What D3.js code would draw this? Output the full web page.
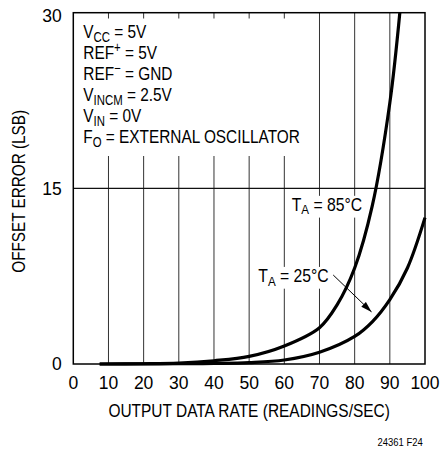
<!DOCTYPE html>
<html>
<head>
<meta charset="utf-8">
<script src="https://cdn.jsdelivr.net/npm/d3@7"></script>
<style>
  html, body { margin: 0; padding: 0; background: #fff; }
  svg { display: block; font-family: "Liberation Sans", Arial, sans-serif; }
</style>
</head>
<body>
<svg id="chart" width="440" height="451"></svg>
<script>
// data
const rate85 = [7.5, 20, 30, 40, 50, 60, 70, 75, 80, 85, 90, 93];
const offset85 = [0, 0.02, 0.08, 0.28, 0.65, 1.54, 3.1, 5.05, 8.2, 13.5, 22.3, 30.5];

const rate25 = [7.5, 30, 40, 50, 60, 70, 80, 85, 90, 95, 100];
const offset25 = [0, 0.02, 0.05, 0.12, 0.34, 1.0, 2.35, 3.6, 5.5, 8.2, 12.5];

const xTicks = [0, 10, 20, 30, 40, 50, 60, 70, 80, 90, 100];
const yTicks = [0, 15, 30];

// test conditions, each line split in [text, kind] parts
const conditions = [
  [["V", ""], ["CC", "sub"], [" = 5V", ""]],
  [["REF", ""], ["+", "sup"], [" = 5V", ""]],
  [["REF", ""], ["\u2212", "sup"], [" = GND", ""]],
  [["V", ""], ["INCM", "sub"], [" = 2.5V", ""]],
  [["V", ""], ["IN", "sub"], [" = 0V", ""]],
  [["F", ""], ["O", "sub"], [" = EXTERNAL OSCILLATOR", ""]],
];

const svg = d3.select("#chart");
const defs = svg.append("defs");

const x = d3.scaleLinear().domain([0, 100]).range([73.3, 425]);
const y = d3.scaleLinear().domain([0, 30]).range([364, 12.7]);

// text in a narrow face: Liberation Sans squeezed sideways around its anchor
function addText(parent, o) {
  const g = parent.append("g")
    .attr("transform", `translate(${o.x},0) scale(${o.k || 1},1) translate(${-o.x},0)`);
  const t = g.append("text")
    .attr("x", o.x).attr("y", o.y)
    .attr("font-size", o.size)
    .attr("text-anchor", o.anchor || "start");
  let shift = 0;
  o.parts.forEach(([s, kind]) => {
    const ts = t.append("tspan").text(s);
    let want = 0;
    if (kind === "sub") want = o.size * 0.22;
    if (kind === "sup") want = -o.size * 0.36;
    if (kind) ts.attr("font-size", o.size * 0.74);
    if (want !== shift) ts.attr("dy", want - shift);
    shift = want;
  });
  return g;
}

function maskBehind(g, pad) {
  const b = g.node().getBBox();
  g.insert("rect", ":first-child")
    .attr("x", b.x - pad[0]).attr("y", b.y - pad[2])
    .attr("width", b.width + pad[0] + pad[1]).attr("height", b.height + pad[2] + pad[3])
    .attr("fill", "#fff");
}

const plot = svg.append("g");

// ── grid ─────────────────────────────────────────
plot.append("g")
  .selectAll("line")
  .data(xTicks.slice(1, -1))
  .join("line")
  .attr("x1", (d) => x(d)).attr("x2", (d) => x(d))
  .attr("y1", y(30)).attr("y2", y(0))
  .attr("stroke", "#333").attr("stroke-width", 1);

plot.append("line")
  .attr("x1", x(0)).attr("x2", x(100))
  .attr("y1", y(15)).attr("y2", y(15))
  .attr("stroke", "#111").attr("stroke-width", 1.2);

// ── conditions box ───────────────────────────────
const cond = plot.append("g");
cond.append("rect")
  .attr("x", x(0) + 1).attr("y", 18.5)
  .attr("width", x(60) + 8 - x(0) - 1).attr("height", 156 - 18.5)
  .attr("fill", "#fff");
conditions.forEach((parts, i) => {
  addText(cond, { x: 83.3, y: 37.7 + i * 21.1, size: 19, k: 0.81, parts });
});

// ── curve labels ─────────────────────────────────
const curveLabels = [
  { rate: 62.1, off: 13.1, parts: [["T", ""], ["A", "sub"], [" = 85\u00B0C", ""]] },
  { rate: 52.6, off: 7.03, parts: [["T", ""], ["A", "sub"], [" = 25\u00B0C", ""]] },
];
curveLabels.forEach((l) => {
  const g = addText(plot, { x: x(l.rate), y: y(l.off), size: 17.5, k: 0.9, parts: l.parts });
  maskBehind(g, [2, 2, -1, 0]);
});

// arrow from the 25°C label to its curve
defs.append("marker")
  .attr("id", "arrow")
  .attr("viewBox", "0 0 10 6")
  .attr("refX", 10).attr("refY", 3)
  .attr("markerWidth", 11).attr("markerHeight", 6.6)
  .attr("markerUnits", "userSpaceOnUse")
  .attr("orient", "auto")
  .append("path")
  .attr("d", "M0,0 L10,3 L0,6 Z")
  .attr("fill", "#000");

const arrowFrom = [73.9, 7.6], arrowTo = [84.8, 4.45];
plot.append("line")
  .attr("x1", x(arrowFrom[0])).attr("y1", y(arrowFrom[1]))
  .attr("x2", x(arrowTo[0])).attr("y2", y(arrowTo[1]))
  .attr("stroke", "#000").attr("stroke-width", 1)
  .attr("marker-end", "url(#arrow)");

// ── frame ────────────────────────────────────────
plot.append("rect")
  .attr("x", x(0)).attr("y", y(30))
  .attr("width", x(100) - x(0)).attr("height", y(0) - y(30))
  .attr("fill", "none").attr("stroke", "#000").attr("stroke-width", 1.5);

// ── curves ───────────────────────────────────────
defs.append("clipPath").attr("id", "clip")
  .append("rect")
  .attr("x", x(0)).attr("y", y(30))
  .attr("width", x(100) - x(0) + 4).attr("height", y(0) - y(30) + 6);

const line = d3.line()
  .x((d) => x(d[0]))
  .y((d) => y(d[1]))
  .curve(d3.curveCatmullRom.alpha(0.5));

[[rate85, offset85], [rate25, offset25]].forEach(([rs, os]) => {
  plot.append("path")
    .datum(rs.map((r, i) => [r, os[i]]))
    .attr("d", line)
    .attr("clip-path", "url(#clip)")
    .attr("fill", "none")
    .attr("stroke", "#000")
    .attr("stroke-width", 3.2);
});

// ── axes labels ──────────────────────────────────
xTicks.forEach((d) => {
  addText(svg, { x: x(d), y: 389.3, size: 17.5, anchor: "middle", parts: [[String(d), ""]] });
});
// top label sits a little lower so it stays clear of the page edge
yTicks.forEach((d) => {
  addText(svg, { x: 61.7, y: Math.max(y(d) + 6.3, 21.8), size: 17.5, anchor: "end", parts: [[String(d), ""]] });
});

addText(svg, {
  x: (x(0) + x(100)) / 2, y: 416.7, size: 18, k: 0.86, anchor: "middle",
  parts: [["OUTPUT DATA RATE (READINGS/SEC)", ""]],
});

const yTitle = svg.append("g")
  .attr("transform", `translate(25,${(y(0) + y(30)) / 2 + 3}) rotate(-90)`);
addText(yTitle, { x: 0, y: 0, size: 18, k: 0.85, anchor: "middle", parts: [["OFFSET ERROR (LSB)", ""]] });

addText(svg, { x: 422.7, y: 446, size: 10.5, k: 0.9, anchor: "end", parts: [["24361 F24", ""]] });
</script>
</body>
</html>
